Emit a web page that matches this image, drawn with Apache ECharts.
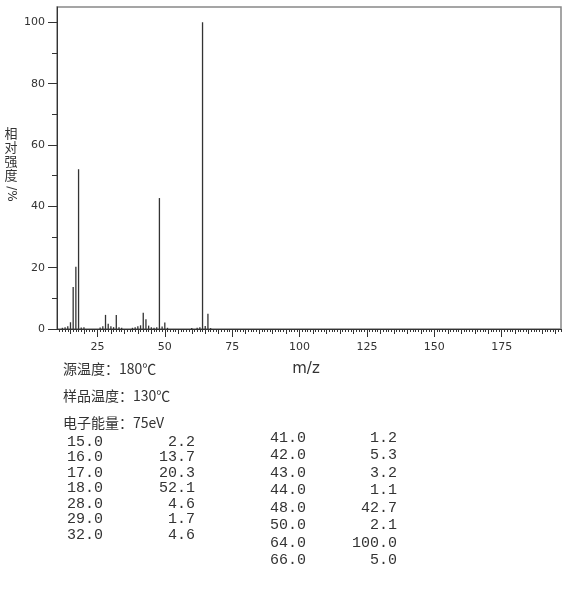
<!DOCTYPE html>
<html><head><meta charset="utf-8">
<script src="https://cdn.jsdelivr.net/npm/echarts@6/dist/echarts.min.js"></script>
<style>html,body{margin:0;padding:0;background:#fff}#c{width:570px;height:594px}</style>
</head><body><div id="c"></div>
<script>
// m/z positions and relative intensities of the peaks (major peaks from table, small ones estimated)
const mzValues = [12, 13, 14, 15, 16, 17, 18, 19, 20, 26, 27, 28, 29, 30, 31, 32, 33, 34, 38, 39, 40, 41, 42, 43, 44, 45, 46, 47, 48, 49, 50, 51, 60, 62, 63, 64, 65, 66, 67];
const intensities = [0.4, 0.6, 0.9, 2.2, 13.7, 20.3, 52.1, 0.5, 0.6, 0.5, 0.9, 4.6, 1.7, 0.9, 0.6, 4.6, 0.6, 0.4, 0.4, 0.6, 0.9, 1.2, 5.3, 3.2, 1.1, 0.6, 0.4, 0.6, 42.7, 0.8, 2.1, 0.4, 0.3, 0.4, 0.6, 100.0, 1.0, 5.0, 0.3];
const xTickLabels = [25, 50, 75, 100, 125, 150, 175];
const yTickLabels = [0, 20, 40, 60, 80, 100];
const yMinorTicks = [10, 30, 50, 70, 90];
const infoLines = ['源温度：180℃', '样品温度：130℃', '电子能量：75eV'];
const tableLeftMz = ['15.0', '16.0', '17.0', '18.0', '28.0', '29.0', '32.0'];
const tableLeftInt = ['2.2', '13.7', '20.3', '52.1', '4.6', '1.7', '4.6'];
const tableRightMz = ['41.0', '42.0', '43.0', '44.0', '48.0', '50.0', '64.0', '66.0'];
const tableRightInt = ['1.2', '5.3', '3.2', '1.1', '42.7', '2.1', '100.0', '5.0'];

const X_MIN = 10, X_MAX = 197;
const unitTicks = [], fiveTicks = [];
for (let v = 11; v <= X_MAX; v++) unitTicks.push(v);
for (let v = 15; v <= X_MAX; v += 5) fiveTicks.push(v);

const txtColor = '#333';
const graphics = [];
// y axis name (vertical)
['相', '对', '强', '度'].forEach((ch, i) => {
  graphics.push({type: 'text', x: 11, y: 133 + i * 14, style: {text: ch, font: '13px "Noto Sans CJK SC"', fill: txtColor, textAlign: 'center', textVerticalAlign: 'middle'}});
});
graphics.push({type: 'text', x: 11, y: 194, rotation: -Math.PI / 2, style: {text: '/%', font: '12px "DejaVu Sans"', fill: txtColor, textAlign: 'center', textVerticalAlign: 'middle'}});
graphics.push({type: 'text', x: 306, y: 369, style: {text: 'm/z', font: '15px "DejaVu Sans"', fill: txtColor, textAlign: 'center', textVerticalAlign: 'middle'}});
infoLines.forEach((t, i) => {
  graphics.push({type: 'text', x: 63, y: 369 + i * 27, style: {text: t, font: '14px "Noto Sans CJK SC"', fill: txtColor, textAlign: 'left', textVerticalAlign: 'middle'}});
});
const monoFont = '15px "Liberation Mono"';
tableLeftMz.forEach((t, i) => {
  const y = 442 + i * 15.5;
  graphics.push({type: 'text', x: 67, y: y, style: {text: t, font: monoFont, fill: txtColor, textAlign: 'left', textVerticalAlign: 'middle'}});
  graphics.push({type: 'text', x: 195, y: y, style: {text: tableLeftInt[i], font: monoFont, fill: txtColor, textAlign: 'right', textVerticalAlign: 'middle'}});
});
tableRightMz.forEach((t, i) => {
  const y = 438 + i * 17.5;
  graphics.push({type: 'text', x: 270, y: y, style: {text: t, font: monoFont, fill: txtColor, textAlign: 'left', textVerticalAlign: 'middle'}});
  graphics.push({type: 'text', x: 397, y: y, style: {text: tableRightInt[i], font: monoFont, fill: txtColor, textAlign: 'right', textVerticalAlign: 'middle'}});
});

const chart = echarts.init(document.getElementById('c'), null, {renderer: 'canvas'});
const baseX = {type: 'value', min: X_MIN, max: X_MAX, position: 'bottom', splitLine: {show: false}};
chart.setOption({
  animation: false,
  backgroundColor: '#fff',
  grid: {left: 57, top: 7, right: 9, bottom: 265, show: true, borderColor: '#888', borderWidth: 1.5, containLabel: false},
  xAxis: [
    Object.assign({}, baseX, {
      axisLine: {show: true, lineStyle: {color: '#333', width: 1}},
      axisTick: {show: true, customValues: unitTicks, length: 3, lineStyle: {color: '#333'}},
      axisLabel: {show: false}
    }),
    Object.assign({}, baseX, {
      axisLine: {show: false},
      axisTick: {show: true, customValues: fiveTicks, length: 5, lineStyle: {color: '#333'}},
      axisLabel: {show: false}
    }),
    Object.assign({}, baseX, {
      axisLine: {show: false},
      axisTick: {show: true, customValues: xTickLabels, length: 8, lineStyle: {color: '#333'}},
      axisLabel: {show: true, customValues: xTickLabels, margin: 13, color: txtColor, fontFamily: 'DejaVu Sans', fontSize: 11}
    })
  ],
  yAxis: [
    {type: 'value', min: 0, max: 105, splitLine: {show: false},
     axisLine: {show: true, lineStyle: {color: '#333'}},
     axisTick: {show: true, customValues: yTickLabels, length: 9, lineStyle: {color: '#333'}},
     axisLabel: {show: true, customValues: yTickLabels, margin: 12, color: txtColor, fontFamily: 'DejaVu Sans', fontSize: 11}},
    {type: 'value', min: 0, max: 105, position: 'left', splitLine: {show: false},
     axisLine: {show: false},
     axisTick: {show: true, customValues: yMinorTicks, length: 5, lineStyle: {color: '#333'}},
     axisLabel: {show: false}}
  ],
  series: [{
    type: 'bar',
    xAxisIndex: 0, yAxisIndex: 0,
    barWidth: 1.3,
    itemStyle: {color: '#333'},
    data: mzValues.map((m, i) => [m, intensities[i]])
  }],
  graphic: graphics
});
</script></body></html>
